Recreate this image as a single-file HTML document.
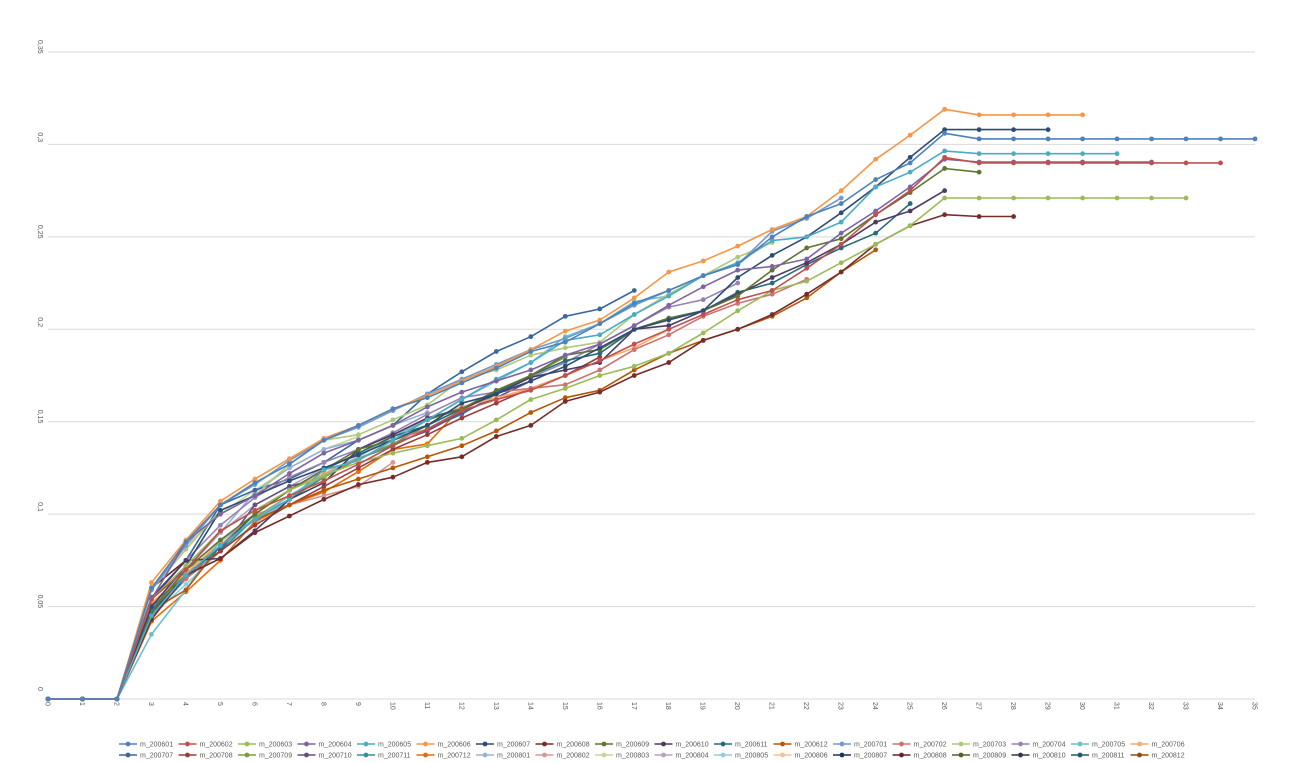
<!DOCTYPE html>
<html><head><meta charset="utf-8"><style>
html,body{margin:0;padding:0;background:#fff;width:1308px;height:763px;overflow:hidden}
svg{display:block;font-family:"Liberation Sans",sans-serif}
</style></head><body>
<svg id="chart" width="1308" height="763" viewBox="0 0 1308 763">
<g id="grid"></g>
<g id="yaxis"></g>
<g id="xaxis"></g>
<g id="series"></g>
<g id="legend"></g>
</svg>
<script>
const seriesNames = ["m_200601","m_200602","m_200603","m_200604","m_200605","m_200606","m_200607","m_200608","m_200609","m_200610","m_200611","m_200612","m_200701","m_200702","m_200703","m_200704","m_200705","m_200706","m_200707","m_200708","m_200709","m_200710","m_200711","m_200712","m_200801","m_200802","m_200803","m_200804","m_200805","m_200806","m_200807","m_200808","m_200809","m_200810","m_200811","m_200812"];
const seriesColors = ["#4F81BD","#C0504D","#9BBB59","#8064A2","#4BACC6","#F79646","#2C4D75","#772C2A","#5F7530","#4D3B62","#276A7C","#B65708","#729ACA","#CD7371","#AFC97A","#9983B5","#6FBDD1","#F9AB6B","#3A679C","#9C3D3A","#7E9C40","#664F83","#358EA6","#E46C0A","#95B3D7","#D99694","#C3D69B","#B3A2C7","#93CDDD","#FAC090","#17375E","#632523","#4F6228","#3F3151","#215968","#984807"];
const xTicks = [0,1,2,3,4,5,6,7,8,9,10,11,12,13,14,15,16,17,18,19,20,21,22,23,24,25,26,27,28,29,30,31,32,33,34,35];
const yTicks = [0,0.05,0.1,0.15,0.2,0.25,0.3,0.35];
const yTickLabels = ["0","0,05","0,1","0,15","0,2","0,25","0,3","0,35"];
const s200601 = [0,0,0,0.06,0.085,0.105,0.117,0.127,0.14,0.148,0.157,0.163,0.171,0.179,0.188,0.193,0.203,0.214,0.221,0.229,0.235,0.25,0.261,0.268,0.281,0.29,0.306,0.303,0.303,0.303,0.303,0.303,0.303,0.303,0.303,0.303];
const s200602 = [0,0,0,0.054,0.07,0.091,0.102,0.11,0.118,0.127,0.137,0.146,0.156,0.162,0.167,0.175,0.183,0.192,0.2,0.208,0.216,0.221,0.233,0.246,0.262,0.275,0.293,0.29,0.29,0.29,0.29,0.29,0.29,0.29,0.29];
const s200603 = [0,0,0,0.054,0.072,0.091,0.102,0.113,0.121,0.128,0.133,0.137,0.141,0.151,0.162,0.168,0.175,0.18,0.187,0.198,0.21,0.221,0.226,0.236,0.246,0.256,0.271,0.271,0.271,0.271,0.271,0.271,0.271,0.271];
const s200604 = [0,0,0,0.054,0.085,0.1,0.11,0.122,0.133,0.14,0.148,0.158,0.166,0.172,0.178,0.186,0.192,0.202,0.213,0.223,0.232,0.234,0.238,0.252,0.264,0.277,0.292,0.2905,0.2905,0.2905,0.2905,0.2905,0.2905];
const s200605 = [0,0,0,0.045,0.067,0.083,0.097,0.108,0.124,0.129,0.14,0.151,0.162,0.173,0.182,0.194,0.197,0.208,0.218,0.229,0.236,0.248,0.25,0.258,0.277,0.285,0.2965,0.295,0.295,0.295,0.295,0.295];
const s200606 = [0,0,0,0.063,0.086,0.107,0.119,0.13,0.141,0.148,0.157,0.164,0.172,0.18,0.189,0.199,0.205,0.217,0.231,0.237,0.245,0.254,0.261,0.275,0.292,0.305,0.319,0.316,0.316,0.316,0.316];
const s200607 = [0,0,0,0.05,0.072,0.102,0.11,0.118,0.125,0.132,0.14,0.148,0.16,0.165,0.172,0.18,0.19,0.2,0.205,0.21,0.228,0.24,0.25,0.263,0.277,0.293,0.308,0.308,0.308,0.308];
const s200608 = [0,0,0,0.043,0.067,0.076,0.09,0.099,0.108,0.116,0.12,0.128,0.131,0.142,0.148,0.161,0.166,0.175,0.182,0.194,0.2,0.208,0.219,0.231,0.246,0.256,0.262,0.261,0.261];
const s200609 = [0,0,0,0.048,0.07,0.086,0.1,0.113,0.124,0.135,0.14,0.151,0.157,0.167,0.175,0.186,0.189,0.2,0.206,0.21,0.218,0.232,0.244,0.249,0.262,0.274,0.287,0.285];
const s200610 = [0,0,0,0.054,0.075,0.076,0.091,0.108,0.117,0.135,0.143,0.152,0.157,0.165,0.174,0.178,0.182,0.2,0.202,0.21,0.219,0.228,0.236,0.246,0.258,0.264,0.275];
const s200611 = [0,0,0,0.047,0.067,0.082,0.1,0.113,0.124,0.133,0.142,0.148,0.157,0.166,0.175,0.183,0.187,0.2,0.206,0.21,0.22,0.225,0.235,0.244,0.252,0.268];
const s200612 = [0,0,0,0.048,0.059,0.083,0.097,0.105,0.113,0.119,0.125,0.131,0.137,0.145,0.155,0.163,0.167,0.178,0.187,0.194,0.2,0.207,0.217,0.231,0.243];
const s200701 = [0,0,0,0.059,0.083,0.105,0.116,0.129,0.14,0.147,0.156,0.165,0.173,0.181,0.189,0.195,0.203,0.213,0.221,0.229,0.235,0.253,0.26,0.271];
const s200702 = [0,0,0,0.051,0.065,0.083,0.1,0.113,0.124,0.129,0.14,0.146,0.156,0.166,0.168,0.17,0.178,0.189,0.197,0.207,0.214,0.219,0.227];
const s200703 = [0,0,0,0.059,0.081,0.102,0.11,0.127,0.14,0.143,0.151,0.159,0.173,0.178,0.186,0.19,0.193,0.208,0.219,0.229,0.239,0.247];
const s200704 = [0,0,0,0.054,0.075,0.094,0.109,0.12,0.128,0.135,0.144,0.154,0.163,0.166,0.174,0.182,0.192,0.202,0.212,0.216,0.225];
const s200705 = [0,0,0,0.035,0.059,0.086,0.097,0.11,0.121,0.131,0.142,0.151,0.162,0.172,0.182,0.196,0.203,0.215,0.218,0.229];
const s200706 = [0,0,0,0.052,0.068,0.085,0.1,0.113,0.122,0.131,0.143,0.151,0.158,0.163,0.168,0.175,0.183,0.19,0.2];
const s200707 = [0,0,0,0.055,0.075,0.105,0.113,0.119,0.128,0.14,0.148,0.165,0.177,0.188,0.196,0.207,0.211,0.221];
const s200708 = [0,0,0,0.045,0.066,0.08,0.094,0.105,0.115,0.125,0.135,0.143,0.152,0.16,0.168,0.175,0.185];
const s200709 = [0,0,0,0.047,0.07,0.082,0.098,0.11,0.12,0.13,0.138,0.148,0.157,0.165,0.175,0.185];
const s200710 = [0,0,0,0.05,0.068,0.08,0.105,0.115,0.12,0.13,0.138,0.145,0.155,0.163,0.172];
const s200711 = [0,0,0,0.045,0.065,0.08,0.098,0.108,0.12,0.13,0.137,0.146,0.154,0.165];
const s200712 = [0,0,0,0.042,0.058,0.075,0.096,0.105,0.112,0.123,0.135,0.138,0.158];
const s200801 = [0,0,0,0.05,0.07,0.09,0.112,0.125,0.135,0.14,0.148,0.155];
const s200802 = [0,0,0,0.05,0.065,0.085,0.1,0.105,0.11,0.115,0.128];
const s200803 = [0,0,0,0.06,0.083,0.1,0.113,0.125,0.135,0.142];
const s200804 = [0,0,0,0.05,0.07,0.09,0.105,0.115,0.125];
const s200805 = [0,0,0,0.045,0.062,0.08,0.095,0.108];
const s200806 = [0,0,0,0.05,0.065,0.085,0.1];
const s200807 = [0,0,0,0.045,0.07,0.09];
const s200808 = [0,0,0,0.06,0.075];
const s200809 = [0,0,0,0.047];
const s200810 = [0,0,0];
const s200811 = [0,0];
const s200812 = [0];
const seriesValues = [s200601,s200602,s200603,s200604,s200605,s200606,s200607,s200608,s200609,s200610,s200611,s200612,s200701,s200702,s200703,s200704,s200705,s200706,s200707,s200708,s200709,s200710,s200711,s200712,s200801,s200802,s200803,s200804,s200805,s200806,s200807,s200808,s200809,s200810,s200811,s200812];

const NS = "http://www.w3.org/2000/svg";
const X0 = 48, X1 = 1255, Y0 = 699, Y1 = 52;
function xScale(i){ return X0 + (X1 - X0) * i / 35; }
function yScale(v){ return Y0 - (Y0 - Y1) * v / 0.35; }
function mk(tag, attrs, parent){ const e = document.createElementNS(NS, tag); for (const k in attrs) e.setAttribute(k, attrs[k]); parent.appendChild(e); return e; }

const grid = document.getElementById('grid');
const yaxis = document.getElementById('yaxis');
yTicks.forEach((t, i) => {
  const y = yScale(t);
  const l = mk('line', {x1: X0, x2: X1, y1: y, y2: y, stroke: '#d9d9d9', 'stroke-width': 1}, grid);
  
  
  const tx = mk('text', {x: 0, y: 0, 'font-size': 7, fill: '#595959', transform: 'translate(38,' + (y - 12) + ') rotate(90)'}, yaxis);
  tx.textContent = yTickLabels[i];
  
  
});
const xaxis = document.getElementById('xaxis');
xTicks.forEach(t => {
  const x = xScale(t);
  const tx = mk('text', {x: 0, y: 0, 'font-size': 7, fill: '#595959', transform: 'translate(' + (x - 2.5) + ',702) rotate(90)'}, xaxis);
  tx.textContent = String(t);
  
  
});

const sg = document.getElementById('series');
for (let k = seriesValues.length - 1; k >= 0; k--) {
  const vals = seriesValues[k], col = seriesColors[k];
  const g = mk('g', {}, sg);
  
  
  const pts = vals.map((v, i) => xScale(i).toFixed(1) + ',' + yScale(v).toFixed(1)).join(' ');
  const pl = mk('polyline', {points: pts, fill: 'none', stroke: col, 'stroke-width': 1.6, 'stroke-linejoin': 'round'}, g);
  
  
  vals.forEach((v, i) => {
    const c = mk('circle', {cx: xScale(i), cy: yScale(v), r: 2.4, fill: col}, g);
    
    
  });
}

const lg = document.getElementById('legend');
seriesNames.forEach((n, k) => {
  const row = Math.floor(k / 18), col = k % 18;
  const mx = 128 + col * 59.5, my = 744 + row * 11;
  const g = mk('g', {}, lg);
  
  
  mk('line', {x1: mx - 9, x2: mx + 9, y1: my, y2: my, stroke: seriesColors[k], 'stroke-width': 1.4}, g);
  mk('circle', {cx: mx, cy: my, r: 2.4, fill: seriesColors[k]}, g);
  const t = mk('text', {x: mx + 12, y: my + 2.5, 'font-size': 7, fill: '#595959'}, g);
  t.textContent = n;
});
</script>
</body></html>
